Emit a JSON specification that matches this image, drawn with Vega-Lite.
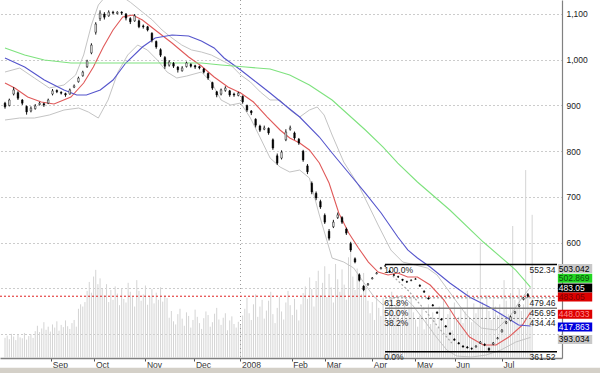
{
"$schema":"https://vega.github.io/schema/vega-lite/v6.json",
"width":562,"height":358,
"autosize":{"type":"none"},
"padding":{"left":0,"top":0,"right":38,"bottom":15},
"background":"#ffffff",
"config":{"view":{"stroke":null},"font":"Liberation Sans"},
"datasets":{
"px":[
{"d":0,"o":905,"h":908,"l":893,"c":897},{"d":2,"o":900,"h":915,"l":898,"c":912},{"d":4,"o":925,"h":940,"l":922,"c":934},{"d":6,"o":928,"h":931,"l":912,"c":916},{"d":8,"o":912,"h":914,"l":901,"c":905},{"d":10,"o":898,"h":900,"l":880,"c":886},{"d":12,"o":888,"h":898,"l":885,"c":894},{"d":14,"o":893,"h":903,"l":891,"c":899},{"d":16,"o":902,"h":908,"l":900,"c":905},{"d":18,"o":904,"h":906,"l":897,"c":901},{"d":20,"o":905,"h":915,"l":903,"c":912},{"d":22,"o":925,"h":936,"l":922,"c":932},{"d":24,"o":933,"h":935,"l":927,"c":930},{"d":26,"o":929,"h":931,"l":924,"c":927},{"d":28,"o":926,"h":928,"l":919,"c":923},{"d":30,"o":925,"h":937,"l":924,"c":934},{"d":32,"o":940,"h":946,"l":938,"c":943},{"d":34,"o":952,"h":963,"l":950,"c":960},{"d":36,"o":965,"h":976,"l":963,"c":973},{"d":38,"o":985,"h":1000,"l":982,"c":997},{"d":40,"o":1015,"h":1036,"l":1012,"c":1032},{"d":42,"o":1060,"h":1082,"l":1055,"c":1078},{"d":44,"o":1090,"h":1108,"l":1085,"c":1102},{"d":46,"o":1100,"h":1104,"l":1088,"c":1093},{"d":48,"o":1096,"h":1108,"l":1094,"c":1104},{"d":50,"o":1104,"h":1107,"l":1099,"c":1102},{"d":52,"o":1101,"h":1106,"l":1099,"c":1104},{"d":54,"o":1104,"h":1106,"l":1098,"c":1102},{"d":56,"o":1100,"h":1102,"l":1086,"c":1091},{"d":58,"o":1090,"h":1093,"l":1078,"c":1083},{"d":60,"o":1085,"h":1100,"l":1083,"c":1096},{"d":62,"o":1085,"h":1088,"l":1069,"c":1072},{"d":64,"o":1074,"h":1077,"l":1068,"c":1072},{"d":66,"o":1072,"h":1074,"l":1062,"c":1065},{"d":68,"o":1058,"h":1060,"l":1038,"c":1043},{"d":70,"o":1040,"h":1042,"l":1024,"c":1028},{"d":72,"o":1022,"h":1025,"l":1006,"c":1010},{"d":74,"o":1005,"h":1008,"l":980,"c":986},{"d":76,"o":988,"h":999,"l":985,"c":995},{"d":78,"o":992,"h":995,"l":982,"c":986},{"d":80,"o":984,"h":986,"l":972,"c":978},{"d":82,"o":976,"h":986,"l":974,"c":982},{"d":84,"o":985,"h":996,"l":983,"c":993},{"d":86,"o":990,"h":992,"l":983,"c":986},{"d":88,"o":987,"h":989,"l":980,"c":984},{"d":90,"o":985,"h":987,"l":979,"c":982},{"d":92,"o":980,"h":982,"l":970,"c":973},{"d":94,"o":970,"h":972,"l":956,"c":960},{"d":96,"o":950,"h":952,"l":934,"c":938},{"d":98,"o":930,"h":932,"l":918,"c":923},{"d":100,"o":925,"h":937,"l":922,"c":934},{"d":102,"o":933,"h":942,"l":930,"c":938},{"d":104,"o":932,"h":934,"l":919,"c":923},{"d":106,"o":925,"h":928,"l":919,"c":923},{"d":108,"o":922,"h":930,"l":920,"c":927},{"d":110,"o":920,"h":922,"l":904,"c":908},{"d":112,"o":900,"h":902,"l":886,"c":890},{"d":114,"o":888,"h":890,"l":879,"c":884},{"d":116,"o":870,"h":872,"l":852,"c":857},{"d":118,"o":855,"h":858,"l":842,"c":846},{"d":120,"o":848,"h":856,"l":846,"c":851},{"d":122,"o":850,"h":852,"l":836,"c":840},{"d":124,"o":825,"h":828,"l":803,"c":807},{"d":126,"o":790,"h":795,"l":770,"c":774},{"d":128,"o":785,"h":802,"l":782,"c":798},{"d":130,"o":825,"h":848,"l":822,"c":842},{"d":132,"o":848,"h":856,"l":845,"c":851},{"d":134,"o":840,"h":843,"l":825,"c":829},{"d":136,"o":826,"h":829,"l":814,"c":818},{"d":138,"o":800,"h":803,"l":777,"c":781},{"d":140,"o":768,"h":772,"l":750,"c":755},{"d":142,"o":730,"h":734,"l":706,"c":711},{"d":144,"o":708,"h":712,"l":693,"c":698},{"d":146,"o":690,"h":694,"l":674,"c":678},{"d":148,"o":660,"h":664,"l":641,"c":645},{"d":150,"o":625,"h":630,"l":605,"c":610},{"d":152,"o":635,"h":650,"l":632,"c":645},{"d":154,"o":655,"h":666,"l":652,"c":661},{"d":156,"o":655,"h":658,"l":641,"c":645},{"d":158,"o":630,"h":633,"l":617,"c":621},{"d":160,"o":598,"h":602,"l":580,"c":584},{"d":162,"o":565,"h":568,"l":555,"c":558},{"d":164,"o":530,"h":533,"l":515,"c":518},{"d":166,"o":505,"h":507,"l":494,"c":497},{"d":168,"o":508,"h":512,"l":506,"c":510},{"d":170,"o":521,"h":525,"l":520,"c":523},{"d":172,"o":532,"h":536,"l":531,"c":534},{"d":174,"o":543,"h":547,"l":542,"c":545},{"d":176,"o":549,"h":552.34,"l":547,"c":550},{"d":178,"o":538,"h":540,"l":534,"c":536},{"d":180,"o":530,"h":532,"l":527,"c":529},{"d":182,"o":526,"h":528,"l":523,"c":525},{"d":184,"o":520,"h":521,"l":516,"c":518},{"d":186,"o":515,"h":517,"l":512,"c":514},{"d":188,"o":517,"h":520,"l":516,"c":518},{"d":190,"o":520,"h":523,"l":519,"c":521},{"d":192,"o":507,"h":509,"l":504,"c":505},{"d":194,"o":494,"h":496,"l":491,"c":492},{"d":196,"o":479,"h":481,"l":476,"c":477},{"d":198,"o":464,"h":466,"l":461,"c":462},{"d":200,"o":448,"h":450,"l":445,"c":446},{"d":202,"o":433,"h":435,"l":430,"c":431},{"d":204,"o":418,"h":420,"l":415,"c":416},{"d":206,"o":402,"h":404,"l":399,"c":400},{"d":208,"o":389,"h":391,"l":386,"c":387},{"d":210,"o":381,"h":383,"l":378,"c":379},{"d":212,"o":374,"h":376,"l":371,"c":372},{"d":214,"o":372,"h":374,"l":369,"c":370},{"d":216,"o":369,"h":371,"l":366,"c":368},{"d":218,"o":372,"h":376,"l":371,"c":374},{"d":220,"o":380,"h":385,"l":379,"c":383},{"d":222,"o":378,"h":380,"l":374,"c":376},{"d":224,"o":369,"h":371,"l":361.52,"c":366},{"d":226,"o":378,"h":383,"l":376,"c":381},{"d":228,"o":390,"h":394,"l":389,"c":392},{"d":230,"o":405,"h":411,"l":404,"c":409},{"d":232,"o":424,"h":429,"l":422,"c":427},{"d":234,"o":430,"h":441,"l":428,"c":438},{"d":236,"o":446,"h":451,"l":444,"c":449},{"d":238,"o":461,"h":466,"l":459,"c":464},{"d":240,"o":476,"h":481,"l":474,"c":479},{"d":242,"o":487,"h":490,"l":480,"c":483.05}
],
"vol":[
{"d":0,"v":4.5},{"d":1,"v":5.0},{"d":2,"v":4.2},{"d":3,"v":5.4},{"d":4,"v":4.8},{"d":5,"v":4.0},{"d":6,"v":5.2},{"d":7,"v":4.6},{"d":8,"v":4.4},{"d":9,"v":5.6},{"d":10,"v":4.1},{"d":11,"v":4.9},{"d":12,"v":5.3},{"d":13,"v":4.5},
{"d":14,"v":6.0},{"d":15,"v":7.2},{"d":16,"v":5.8},{"d":17,"v":6.6},{"d":18,"v":8.0},{"d":19,"v":6.3},{"d":20,"v":7.0},{"d":21,"v":5.9},{"d":22,"v":7.5},{"d":23,"v":6.8},{"d":24,"v":8.2},{"d":25,"v":6.1},{"d":26,"v":7.4},{"d":27,"v":6.9},{"d":28,"v":8.4},{"d":29,"v":7.1},{"d":30,"v":6.5},{"d":31,"v":7.8},{"d":32,"v":8.5},{"d":33,"v":7.0},
{"d":34,"v":11.0},{"d":35,"v":12.0},{"d":36,"v":11.5},{"d":37,"v":12.5},
{"d":38,"v":15.0},{"d":39,"v":17.0},{"d":40,"v":14.6},{"d":41,"v":18.2},{"d":42,"v":19.7},{"d":43,"v":16.5},{"d":44,"v":17.8},{"d":45,"v":15.5},
{"d":46,"v":14.0},{"d":47,"v":16.5},{"d":48,"v":12.5},{"d":49,"v":15.2},{"d":50,"v":13.0},{"d":51,"v":16.0},{"d":52,"v":14.4},{"d":53,"v":11.8},{"d":54,"v":15.6},{"d":55,"v":13.2},{"d":56,"v":12.4},{"d":57,"v":16.8},{"d":58,"v":14.8},{"d":59,"v":13.6},{"d":60,"v":11.5},{"d":61,"v":17.4},{"d":62,"v":15.0},{"d":63,"v":12.8},{"d":64,"v":14.2},{"d":65,"v":16.2},{"d":66,"v":11.9},{"d":67,"v":13.8},{"d":68,"v":15.4},{"d":69,"v":12.2},{"d":70,"v":14.6},{"d":71,"v":13.0},{"d":72,"v":15.8},{"d":73,"v":12.6},{"d":74,"v":14.0},{"d":75,"v":13.4},
{"d":76,"v":9.0},{"d":77,"v":10.5},{"d":78,"v":8.2},{"d":79,"v":7.5},{"d":80,"v":9.8},{"d":81,"v":11.0},{"d":82,"v":8.8},{"d":83,"v":7.2},{"d":84,"v":10.2},{"d":85,"v":9.4},{"d":86,"v":6.8},{"d":87,"v":8.5},{"d":88,"v":10.8},{"d":89,"v":9.2},{"d":90,"v":7.8},{"d":91,"v":6.5},{"d":92,"v":8.9},{"d":93,"v":10.4},{"d":94,"v":9.6},{"d":95,"v":7.0},{"d":96,"v":8.0},{"d":97,"v":9.9},{"d":98,"v":11.2},{"d":99,"v":8.6},{"d":100,"v":7.4},{"d":101,"v":9.0},{"d":102,"v":10.0},{"d":103,"v":6.2},{"d":104,"v":8.4},{"d":105,"v":9.3},{"d":106,"v":7.6},{"d":107,"v":6.8},{"d":108,"v":8.1},
{"d":109,"v":7.5},{"d":110,"v":9.5},{"d":111,"v":11.0},{"d":112,"v":13.5},{"d":113,"v":10.0},{"d":114,"v":8.5},{"d":115,"v":12.0},{"d":116,"v":14.2},{"d":117,"v":9.2},{"d":118,"v":11.5},{"d":119,"v":13.0},{"d":120,"v":8.8},{"d":121,"v":10.6},{"d":122,"v":12.8},{"d":123,"v":14.8},{"d":124,"v":9.8},{"d":125,"v":7.8},{"d":126,"v":11.2},{"d":127,"v":13.6},{"d":128,"v":10.4},{"d":129,"v":8.6},{"d":130,"v":12.4},{"d":131,"v":15.0},{"d":132,"v":11.8},{"d":133,"v":9.6},{"d":134,"v":13.2},{"d":135,"v":10.8},{"d":136,"v":8.4},
{"d":137,"v":12.0},{"d":138,"v":14.5},{"d":139,"v":16.0},{"d":140,"v":13.2},{"d":141,"v":18.0},{"d":142,"v":15.4},{"d":143,"v":11.5},{"d":144,"v":17.2},{"d":145,"v":19.5},{"d":146,"v":14.0},{"d":147,"v":16.8},{"d":148,"v":20.5},{"d":149,"v":13.6},{"d":150,"v":18.8},{"d":151,"v":15.8},{"d":152,"v":12.4},{"d":153,"v":21.0},{"d":154,"v":17.6},{"d":155,"v":14.8},{"d":156,"v":19.8},{"d":157,"v":16.4},{"d":158,"v":13.0},{"d":159,"v":22.5},{"d":160,"v":24.0},{"d":161,"v":18.2},{"d":162,"v":15.2},{"d":163,"v":20.0},{"d":164,"v":17.0},{"d":165,"v":14.2},{"d":166,"v":19.0},{"d":167,"v":16.0},{"d":168,"v":12.8},
{"d":169,"v":10.0},{"d":170,"v":12.5},{"d":171,"v":8.5},{"d":172,"v":14.0},{"d":173,"v":11.2},{"d":174,"v":9.4},{"d":175,"v":13.5},{"d":176,"v":10.8},{"d":177,"v":8.2},{"d":178,"v":12.0},{"d":179,"v":14.8},{"d":180,"v":9.6},{"d":181,"v":11.8},{"d":182,"v":13.2},{"d":183,"v":8.8},{"d":184,"v":10.4},{"d":185,"v":12.6},{"d":186,"v":9.0},{"d":187,"v":11.4},{"d":188,"v":13.8},{"d":189,"v":10.2},{"d":190,"v":8.6},
{"d":191,"v":7.0},{"d":192,"v":9.5},{"d":193,"v":11.2},{"d":194,"v":6.4},{"d":195,"v":8.8},{"d":196,"v":12.0},{"d":197,"v":7.6},{"d":198,"v":10.2},{"d":199,"v":9.0},{"d":200,"v":6.8},{"d":201,"v":11.5},{"d":202,"v":8.2},{"d":203,"v":13.0},{"d":204,"v":7.4},{"d":205,"v":9.8},{"d":206,"v":10.6},{"d":207,"v":6.2},{"d":208,"v":12.4},{"d":209,"v":8.4},{"d":210,"v":9.2},{"d":211,"v":11.0},{"d":212,"v":7.8},{"d":213,"v":10.4},{"d":214,"v":15.0},{"d":215,"v":9.0},{"d":216,"v":8.0},{"d":217,"v":12.2},{"d":218,"v":10.0},
{"d":219,"v":11.0},{"d":220,"v":26.0},{"d":221,"v":12.5},{"d":222,"v":9.0},{"d":223,"v":14.0},{"d":224,"v":10.5},{"d":225,"v":8.5},{"d":226,"v":13.0},{"d":227,"v":11.5},{"d":228,"v":9.5},{"d":229,"v":12.0},{"d":230,"v":10.0},{"d":231,"v":17.4},{"d":232,"v":12.8},{"d":233,"v":9.8},{"d":234,"v":14.5},{"d":235,"v":29.5},{"d":236,"v":13.0},{"d":237,"v":11.0},{"d":238,"v":15.5},{"d":239,"v":10.5},{"d":240,"v":12.0},{"d":241,"v":42.0},{"d":242,"v":14.0},{"d":243,"v":11.0},{"d":244,"v":32.0}
],
"lines":[
{"s":"r","d":0,"v":949.1},{"s":"r","d":4.5,"v":938.2},{"s":"r","d":10.5,"v":918.5},{"s":"r","d":16.8,"v":907.6},{"s":"r","d":22.7,"v":903.2},{"s":"r","d":30.5,"v":918.5},{"s":"r","d":36.4,"v":949.1},{"s":"r","d":40.9,"v":984.1},{"s":"r","d":45.5,"v":1027.9},{"s":"r","d":50,"v":1065},{"s":"r","d":54.5,"v":1093.4},{"s":"r","d":59.1,"v":1097.8},{"s":"r","d":63.6,"v":1086.9},{"s":"r","d":69.5,"v":1065},{"s":"r","d":77.3,"v":1036.6},{"s":"r","d":85,"v":1006},{"s":"r","d":90.9,"v":986.3},{"s":"r","d":96.8,"v":962.3},{"s":"r","d":103.2,"v":940.4},{"s":"r","d":109.1,"v":927.3},{"s":"r","d":115,"v":907.6},{"s":"r","d":121.4,"v":874.8},{"s":"r","d":127.3,"v":846.4},{"s":"r","d":131.8,"v":828.9},{"s":"r","d":136.4,"v":817.9},{"s":"r","d":140.9,"v":802.7},{"s":"r","d":145.5,"v":774.2},{"s":"r","d":150,"v":730.5},{"s":"r","d":154.5,"v":664.9},{"s":"r","d":159.1,"v":621.2},{"s":"r","d":163.6,"v":588.4},{"s":"r","d":168.2,"v":557.8},{"s":"r","d":172.7,"v":535.9},{"s":"r","d":177.3,"v":529.4},{"s":"r","d":181.8,"v":533.7},{"s":"r","d":186.4,"v":525},{"s":"r","d":190.9,"v":525},{"s":"r","d":196.8,"v":507.5},{"s":"r","d":203.2,"v":474.7},{"s":"r","d":209.1,"v":431},{"s":"r","d":215,"v":393.8},{"s":"r","d":221.4,"v":376.3},{"s":"r","d":227.3,"v":376.3},{"s":"r","d":233.2,"v":393.8},{"s":"r","d":239.5,"v":420.1},{"s":"r","d":243.2,"v":448.033},
{"s":"b","d":0,"v":1003.8},{"s":"b","d":9.1,"v":984.1},{"s":"b","d":18.2,"v":955.7},{"s":"b","d":27.3,"v":933.8},{"s":"b","d":33.2,"v":922.9},{"s":"b","d":37.7,"v":922.9},{"s":"b","d":44.1,"v":933.8},{"s":"b","d":50,"v":955.7},{"s":"b","d":55.9,"v":992.9},{"s":"b","d":63.6,"v":1027.9},{"s":"b","d":69.5,"v":1047.5},{"s":"b","d":77.3,"v":1054.1},{"s":"b","d":85,"v":1051.9},{"s":"b","d":90.9,"v":1041},{"s":"b","d":96.8,"v":1025.7},{"s":"b","d":101.4,"v":1003.8},{"s":"b","d":109.1,"v":977.6},{"s":"b","d":116.8,"v":949.1},{"s":"b","d":122.7,"v":927.3},{"s":"b","d":129.5,"v":901},{"s":"b","d":136.4,"v":874.8},{"s":"b","d":145.5,"v":831.1},{"s":"b","d":151.4,"v":796.1},{"s":"b","d":159.1,"v":752.4},{"s":"b","d":166.8,"v":708.6},{"s":"b","d":174.1,"v":664.9},{"s":"b","d":181.8,"v":612.5},{"s":"b","d":186.4,"v":584.2},{"s":"b","d":190.9,"v":566.5},{"s":"b","d":196.8,"v":546.9},{"s":"b","d":205.9,"v":511.9},{"s":"b","d":215,"v":481.3},{"s":"b","d":224.1,"v":459.4},{"s":"b","d":231.8,"v":437.6},{"s":"b","d":237.7,"v":420.1},{"s":"b","d":243.2,"v":417.863},
{"s":"g","d":0,"v":1025.7},{"s":"g","d":9.1,"v":1010.4},{"s":"g","d":18.2,"v":999.4},{"s":"g","d":30.5,"v":992.9},{"s":"g","d":45.5,"v":992.9},{"s":"g","d":60.5,"v":992.9},{"s":"g","d":75.9,"v":992.9},{"s":"g","d":90.9,"v":992.9},{"s":"g","d":100,"v":988.5},{"s":"g","d":111.4,"v":984.1},{"s":"g","d":122.7,"v":979.8},{"s":"g","d":131.8,"v":966.6},{"s":"g","d":140.9,"v":944.8},{"s":"g","d":151.4,"v":912},{"s":"g","d":159.1,"v":879.2},{"s":"g","d":166.8,"v":846.4},{"s":"g","d":175,"v":809.2},{"s":"g","d":181.8,"v":774.2},{"s":"g","d":190.9,"v":732.7},{"s":"g","d":205.9,"v":671.5},{"s":"g","d":221.4,"v":601.5},{"s":"g","d":236.4,"v":540.3},{"s":"g","d":243.2,"v":502.869},
{"s":"u","d":0,"v":973.2},{"s":"u","d":6.8,"v":981.9},{"s":"u","d":13.6,"v":960.1},{"s":"u","d":20.5,"v":938.2},{"s":"u","d":27.3,"v":944.8},{"s":"u","d":32.7,"v":966.6},{"s":"u","d":36.4,"v":1010.4},{"s":"u","d":40,"v":1075.9},{"s":"u","d":43.2,"v":1119.7},{"s":"u","d":47.7,"v":1145},{"s":"u","d":53.6,"v":1140},{"s":"u","d":58.2,"v":1125},{"s":"u","d":63.6,"v":1104.4},{"s":"u","d":68.2,"v":1086.9},{"s":"u","d":72.7,"v":1065},{"s":"u","d":77.3,"v":1047.5},{"s":"u","d":81.8,"v":1032.2},{"s":"u","d":86.4,"v":1021.3},{"s":"u","d":90.9,"v":1016.9},{"s":"u","d":95.5,"v":1010.4},{"s":"u","d":100,"v":999.4},{"s":"u","d":104.5,"v":988.5},{"s":"u","d":109.1,"v":966.6},{"s":"u","d":113.6,"v":951.3},{"s":"u","d":118.2,"v":929.5},{"s":"u","d":122.7,"v":912},{"s":"u","d":127.3,"v":912},{"s":"u","d":131.8,"v":890.1},{"s":"u","d":136.4,"v":874.8},{"s":"u","d":140.9,"v":890.1},{"s":"u","d":144.5,"v":896.7},{"s":"u","d":147.7,"v":879.2},{"s":"u","d":151.4,"v":835.5},{"s":"u","d":156.8,"v":776.4},{"s":"u","d":163.6,"v":726.1},{"s":"u","d":168.2,"v":682.4},{"s":"u","d":172.7,"v":638.7},{"s":"u","d":178.6,"v":584},{"s":"u","d":184.1,"v":557.8},{"s":"u","d":190,"v":551.2},{"s":"u","d":195.5,"v":544.7},{"s":"u","d":200,"v":529.4},{"s":"u","d":206.8,"v":485.6},{"s":"u","d":213.6,"v":441.9},{"s":"u","d":220.5,"v":413.5},{"s":"u","d":227.3,"v":409.1},{"s":"u","d":234.1,"v":441.9},{"s":"u","d":238.6,"v":474.7},{"s":"u","d":243.2,"v":503.042},
{"s":"l","d":0,"v":868.3},{"s":"l","d":6.8,"v":872.6},{"s":"l","d":13.6,"v":872.6},{"s":"l","d":20.5,"v":879.2},{"s":"l","d":27.3,"v":890.1},{"s":"l","d":34.1,"v":894.5},{"s":"l","d":38.6,"v":885.7},{"s":"l","d":43.2,"v":872.6},{"s":"l","d":47.7,"v":912},{"s":"l","d":52.3,"v":973.2},{"s":"l","d":56.8,"v":1010.4},{"s":"l","d":61.4,"v":1032.2},{"s":"l","d":65.9,"v":1021.3},{"s":"l","d":70.5,"v":999.4},{"s":"l","d":75,"v":973.2},{"s":"l","d":79.5,"v":960.1},{"s":"l","d":84.1,"v":964.4},{"s":"l","d":90.9,"v":973.2},{"s":"l","d":95.5,"v":951.3},{"s":"l","d":100,"v":912},{"s":"l","d":104.5,"v":901},{"s":"l","d":109.1,"v":905.4},{"s":"l","d":113.6,"v":872.6},{"s":"l","d":118.2,"v":828.9},{"s":"l","d":122.7,"v":785.2},{"s":"l","d":127.3,"v":765.5},{"s":"l","d":131.8,"v":754.6},{"s":"l","d":136.4,"v":758.9},{"s":"l","d":140.9,"v":741.4},{"s":"l","d":145.5,"v":660.6},{"s":"l","d":151.4,"v":566.5},{"s":"l","d":156.8,"v":557.8},{"s":"l","d":161.4,"v":544.7},{"s":"l","d":165.9,"v":514.1},{"s":"l","d":170.5,"v":483.5},{"s":"l","d":175,"v":463.8},{"s":"l","d":179.5,"v":479.1},{"s":"l","d":184.1,"v":483.5},{"s":"l","d":188.6,"v":463.8},{"s":"l","d":193.2,"v":435.4},{"s":"l","d":200,"v":391.6},{"s":"l","d":204.5,"v":365.4},{"s":"l","d":209.1,"v":352.3},{"s":"l","d":215.9,"v":350.1},{"s":"l","d":222.7,"v":354.5},{"s":"l","d":229.5,"v":365.4},{"s":"l","d":236.4,"v":382.9},{"s":"l","d":243.2,"v":393.034},
{"s":"x","d":179.5,"v":527.2},{"s":"x","d":186.4,"v":496.6},{"s":"x","d":193.2,"v":459.4},{"s":"x","d":200.9,"v":413.5},{"s":"x","d":206.8,"v":380.7}
],
"fib":[
{"lv":"100.0%","v":552.34,"t":"552.34"},{"lv":"61.8%","v":479.46,"t":"479.46"},{"lv":"50.0%","v":456.95,"t":"456.95"},{"lv":"38.2%","v":434.44,"t":"434.44"},{"lv":"0.0%","v":361.52,"t":"361.52"}
],
"tags":[
{"k":"bbU","v":503.042,"t":"503.042"},{"k":"g","v":502.869,"t":"502.869"},{"k":"last","v":483.05,"t":"483.05"},{"k":"lastR","v":483.05,"t":"483.05"},{"k":"r","v":448.033,"t":"448.033"},{"k":"b","v":417.863,"t":"417.863"},{"k":"bbL","v":393.034,"t":"393.034"}
]
},
"layer":[
{"data":{"name":"vol"},
 "mark":{"type":"rule","color":"#d4d4d4","strokeWidth":1},
 "encoding":{
  "x":{"field":"d","type":"quantitative","scale":{"domain":[0,255.5],"nice":false,"zero":false},
   "axis":{"title":null,"values":[21.4,41.4,65,87.7,109,132.7,148.2,170,190,208.2,230],
    "labelExpr":"datum.value<30?'Sep':datum.value<50?'Oct':datum.value<70?'Nov':datum.value<95?'Dec':datum.value<120?'2008':datum.value<140?'Feb':datum.value<160?'Mar':datum.value<180?'Apr':datum.value<200?'May':datum.value<220?'Jun':'Jul'",
    "grid":false,"domainColor":"#808080","domainWidth":1.5,"tickColor":"#555555","tickSize":3,"labelAlign":"left","labelBaseline":"top","labelPadding":-1,"labelOffset":1,"labelFont":"Liberation Sans","labelFontSize":8.5,"labelColor":"#333333","labelOverlap":false,"labelFlush":false}},
  "y":{"field":"v","type":"quantitative","scale":{"domain":[0,80],"nice":false,"zero":true},"axis":null},
  "y2":{"datum":0}
 }},
{"layer":[
 {"data":{"values":[{}]},"mark":{"type":"rule","color":"#999999","strokeDash":[1,3]},"encoding":{"x":{"datum":109}}},
 {"data":{"name":"tags"},"transform":[{"filter":"datum.k=='lastR'"}],"mark":{"type":"rule","color":"#e02020","strokeDash":[2,2],"strokeWidth":1},
  "encoding":{"y":{"field":"v","type":"quantitative","title":null,"scale":{"domain":[348,1130.6],"nice":false,"zero":false}}}},
 {"data":{"name":"lines"},"transform":[{"filter":"datum.s=='u'||datum.s=='l'"}],"mark":{"type":"line","color":"#c4c4c4","strokeWidth":1,"clip":true},
  "encoding":{"x":{"field":"d","type":"quantitative","title":null},"y":{"field":"v","type":"quantitative","title":null,"scale":{"domain":[348,1130.6],"nice":false,"zero":false}},"detail":{"field":"s"}}},
 {"data":{"name":"lines"},"transform":[{"filter":"datum.s=='x'"}],"mark":{"type":"line","color":"#a8a8a8","strokeWidth":1.2,"strokeDash":[2,2],"clip":true},
  "encoding":{"x":{"field":"d","type":"quantitative","title":null},"y":{"field":"v","type":"quantitative","title":null,"scale":{"domain":[348,1130.6],"nice":false,"zero":false}}}},
 {"data":{"name":"lines"},"transform":[{"filter":"datum.s=='g'||datum.s=='b'||datum.s=='r'"}],"mark":{"type":"line","strokeWidth":1.1,"clip":true},
  "encoding":{"x":{"field":"d","type":"quantitative","title":null},"y":{"field":"v","type":"quantitative","title":null,"scale":{"domain":[348,1130.6],"nice":false,"zero":false}},
   "stroke":{"field":"s","type":"nominal","scale":{"domain":["g","b","r"],"range":["#7ee27e","#5555cc","#e05a5a"]},"legend":null}}},
 {"data":{"name":"fib"},"transform":[{"filter":"datum.lv=='100.0%'||datum.lv=='0.0%'"}],"mark":{"type":"rule","color":"#000000","strokeWidth":1.5},
  "encoding":{"x":{"datum":175.9},"x2":{"datum":255.5},"y":{"field":"v","type":"quantitative","title":null,"scale":{"domain":[348,1130.6],"nice":false,"zero":false}}}},
 {"data":{"name":"fib"},"transform":[{"filter":"datum.lv=='50.0%'"}],"mark":{"type":"rule","color":"#808080","strokeWidth":1.5},
  "encoding":{"x":{"datum":175.9},"x2":{"datum":255.5},"y":{"field":"v","type":"quantitative","title":null,"scale":{"domain":[348,1130.6],"nice":false,"zero":false}}}},
 {"data":{"name":"fib"},"transform":[{"filter":"datum.lv=='61.8%'||datum.lv=='38.2%'"}],"mark":{"type":"rule","color":"#888888","strokeWidth":1,"strokeDash":[2,2]},
  "encoding":{"x":{"datum":175.9},"x2":{"datum":255.5},"y":{"field":"v","type":"quantitative","title":null,"scale":{"domain":[348,1130.6],"nice":false,"zero":false}}}},
 {"data":{"name":"fib"},"mark":{"type":"text","align":"left","baseline":"top","dy":1,"fontSize":8.5,"font":"Liberation Sans","color":"#222222"},
  "encoding":{"x":{"datum":175.5},"y":{"field":"v","type":"quantitative","title":null,"scale":{"domain":[348,1130.6],"nice":false,"zero":false}},"text":{"field":"lv"}}},
 {"data":{"name":"fib"},"mark":{"type":"text","align":"right","baseline":"top","dy":1,"fontSize":8.5,"font":"Liberation Sans","color":"#222222"},
  "encoding":{"x":{"datum":254.8},"y":{"field":"v","type":"quantitative","title":null,"scale":{"domain":[348,1130.6],"nice":false,"zero":false}},"text":{"field":"t"}}},
 {"data":{"name":"px"},"mark":{"type":"rule","color":"#000000","strokeWidth":0.9},
  "encoding":{"x":{"field":"d","type":"quantitative","title":null},
   "y":{"field":"l","type":"quantitative","scale":{"domain":[348,1130.6],"nice":false,"zero":false},
    "axis":{"orient":"right","title":null,"values":[400,500,600,700,800,900,1000,1100],"labelExpr":"datum.value>=600?format(datum.value,','):''","grid":true,"gridDash":[1,3],"gridColor":"#999999","gridWidth":1,"ticks":false,"domain":true,"domainColor":"#808080","domainWidth":1.2,"labelPadding":4,"labelAlign":"left","labelBaseline":"middle","labelFont":"Liberation Sans","labelFontSize":8.5,"labelColor":"#222222"}},
   "y2":{"field":"h"}}},
 {"data":{"name":"px"},"mark":{"type":"bar","width":1.6,"stroke":"#000000","strokeWidth":0.5},
  "encoding":{"x":{"field":"d","type":"quantitative","title":null},"y":{"field":"o","type":"quantitative","title":null,"scale":{"domain":[348,1130.6],"nice":false,"zero":false}},"y2":{"field":"c"},
   "color":{"condition":{"test":"datum.c>datum.o","value":"#ffffff"},"value":"#000000"}}},
 {"data":{"name":"tags"},"transform":[{"filter":"datum.k=='bbU'"}],"layer":[
  {"mark":{"type":"rect","color":"#c8c8c8","yOffset":-23,"y2Offset":-14},"encoding":{"x":{"datum":255.9},"x2":{"datum":271.8},"y":{"field":"v","type":"quantitative","title":null,"scale":{"domain":[348,1130.6],"nice":false,"zero":false}},"y2":{"field":"v"}}},
  {"mark":{"type":"text","align":"left","baseline":"middle","dy":-18.5,"fontSize":8.5,"font":"Liberation Sans","color":"#000000"},"encoding":{"x":{"datum":256.3},"y":{"field":"v","type":"quantitative","title":null},"text":{"field":"t"}}}]},
 {"data":{"name":"tags"},"transform":[{"filter":"datum.k=='g'"}],"layer":[
  {"mark":{"type":"rect","color":"#22d622","yOffset":-13.3,"y2Offset":-4.3},"encoding":{"x":{"datum":255.9},"x2":{"datum":271.8},"y":{"field":"v","type":"quantitative","title":null},"y2":{"field":"v"}}},
  {"mark":{"type":"text","align":"left","baseline":"middle","dy":-8.8,"fontSize":8.5,"font":"Liberation Sans","color":"#0a4a0a"},"encoding":{"x":{"datum":256.3},"y":{"field":"v","type":"quantitative","title":null},"text":{"field":"t"}}}]},
 {"data":{"name":"tags"},"transform":[{"filter":"datum.k=='last'"}],"layer":[
  {"mark":{"type":"rect","color":"#000000","yOffset":-12.7,"y2Offset":-3.7},"encoding":{"x":{"datum":255.9},"x2":{"datum":271.8},"y":{"field":"v","type":"quantitative","title":null},"y2":{"field":"v"}}},
  {"mark":{"type":"text","align":"left","baseline":"middle","dy":-8.2,"fontSize":8.5,"font":"Liberation Sans","color":"#ffffff"},"encoding":{"x":{"datum":256.3},"y":{"field":"v","type":"quantitative","title":null},"text":{"field":"t"}}}]},
 {"data":{"name":"tags"},"transform":[{"filter":"datum.k=='lastR'"}],"layer":[
  {"mark":{"type":"rect","color":"#dd0000","yOffset":-3.7,"y2Offset":5.3},"encoding":{"x":{"datum":255.9},"x2":{"datum":271.8},"y":{"field":"v","type":"quantitative","title":null},"y2":{"field":"v"}}},
  {"mark":{"type":"text","align":"left","baseline":"middle","dy":0.8,"fontSize":8.5,"font":"Liberation Sans","color":"#7a0000"},"encoding":{"x":{"datum":256.3},"y":{"field":"v","type":"quantitative","title":null},"text":{"field":"t"}}}]},
 {"data":{"name":"tags"},"transform":[{"filter":"datum.k=='r'"}],"layer":[
  {"mark":{"type":"rect","color":"#dd0000","yOffset":-2.5,"y2Offset":6.5},"encoding":{"x":{"datum":255.9},"x2":{"datum":271.8},"y":{"field":"v","type":"quantitative","title":null},"y2":{"field":"v"}}},
  {"mark":{"type":"text","align":"left","baseline":"middle","dy":2,"fontSize":8.5,"font":"Liberation Sans","color":"#ff9090"},"encoding":{"x":{"datum":256.3},"y":{"field":"v","type":"quantitative","title":null},"text":{"field":"t"}}}]},
 {"data":{"name":"tags"},"transform":[{"filter":"datum.k=='b'"}],"layer":[
  {"mark":{"type":"rect","color":"#0000dd","yOffset":-3.5,"y2Offset":5.5},"encoding":{"x":{"datum":255.9},"x2":{"datum":271.8},"y":{"field":"v","type":"quantitative","title":null},"y2":{"field":"v"}}},
  {"mark":{"type":"text","align":"left","baseline":"middle","dy":1,"fontSize":8.5,"font":"Liberation Sans","color":"#ffffff"},"encoding":{"x":{"datum":256.3},"y":{"field":"v","type":"quantitative","title":null},"text":{"field":"t"}}}]},
 {"data":{"name":"tags"},"transform":[{"filter":"datum.k=='bbL'"}],"layer":[
  {"mark":{"type":"rect","color":"#c8c8c8","yOffset":-2.5,"y2Offset":6.5},"encoding":{"x":{"datum":255.9},"x2":{"datum":271.8},"y":{"field":"v","type":"quantitative","title":null},"y2":{"field":"v"}}},
  {"mark":{"type":"text","align":"left","baseline":"middle","dy":2,"fontSize":8.5,"font":"Liberation Sans","color":"#000000"},"encoding":{"x":{"datum":256.3},"y":{"field":"v","type":"quantitative","title":null},"text":{"field":"t"}}}]},
 {"data":{"values":[{}]},"mark":{"type":"rect","color":"#d4d0c8"},"encoding":{"x":{"datum":-5},"x2":{"datum":280},"y":{"datum":326.5},"y2":{"datum":300}}}
]}
],
"resolve":{"scale":{"y":"independent"}}
}
